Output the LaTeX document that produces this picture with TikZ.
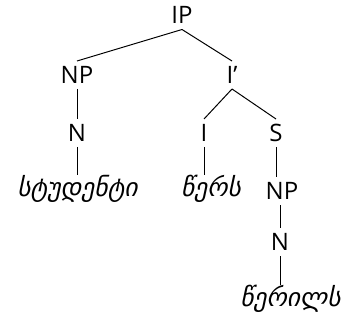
\documentclass[tikz,border=0pt]{standalone}
\usepackage{fontspec}
\setmainfont{Open Sans}
\newfontfamily\geofont[Script=Georgian]{DejaVu Sans}
\begin{document}
\begin{tikzpicture}[x=1pt,y=1pt,line width=1pt]
        \tikzstyle{every node}+=[inner sep=0pt]
        \tikzstyle{cat}=[font=\fontsize{24}{28}\selectfont, text height=17pt, text depth=0pt, outer sep=5.5pt]
        \tikzstyle{word}=[font=\geofont\itshape\fontsize{25.5}{30}\selectfont, text height=18pt, text depth=6pt, outer sep=3pt]
        \useasboundingbox (0,0) rectangle (347,-320);
        \draw (182,-15.5) node[cat] (ip) {IP};
        \draw (77,-75) node[cat] (np) {NP};
        \draw (232,-75) node[cat] (ibar) {I’};
        \draw (77,-133) node[cat] (n) {N};
        \draw (204,-133) node[cat] (i) {I};
        \draw (276,-133) node[cat] (s) {S};
        \draw (77.5,-190) node[word] (stud) {სტუდენტი};
        \draw (211,-190) node[word] (wers) {წერს};
        \draw (282,-191) node[cat] (np2) {NP};
        \draw (280,-242) node[cat] (n2) {N};
        \draw (290.5,-300) node[word] (weril) {წერილს};
        \draw (ip.south) -- (np.north);
        \draw (ip.south) -- (ibar.north);
        \draw (np.south) -- (n.north);
        \draw (ibar.south) -- (i.north);
        \draw (ibar.south) -- (s.north);
        \draw (n.south) -- (stud.north -| n.south);
        \draw (i.south) -- (wers.north -| i.south);
        \draw (s.south) -- (np2.north -| s.south);
        \draw (np2.south -| n2.north) -- (n2.north);
        \draw (n2.south) -- (weril.north -| n2.south);
\end{tikzpicture}
\end{document}
